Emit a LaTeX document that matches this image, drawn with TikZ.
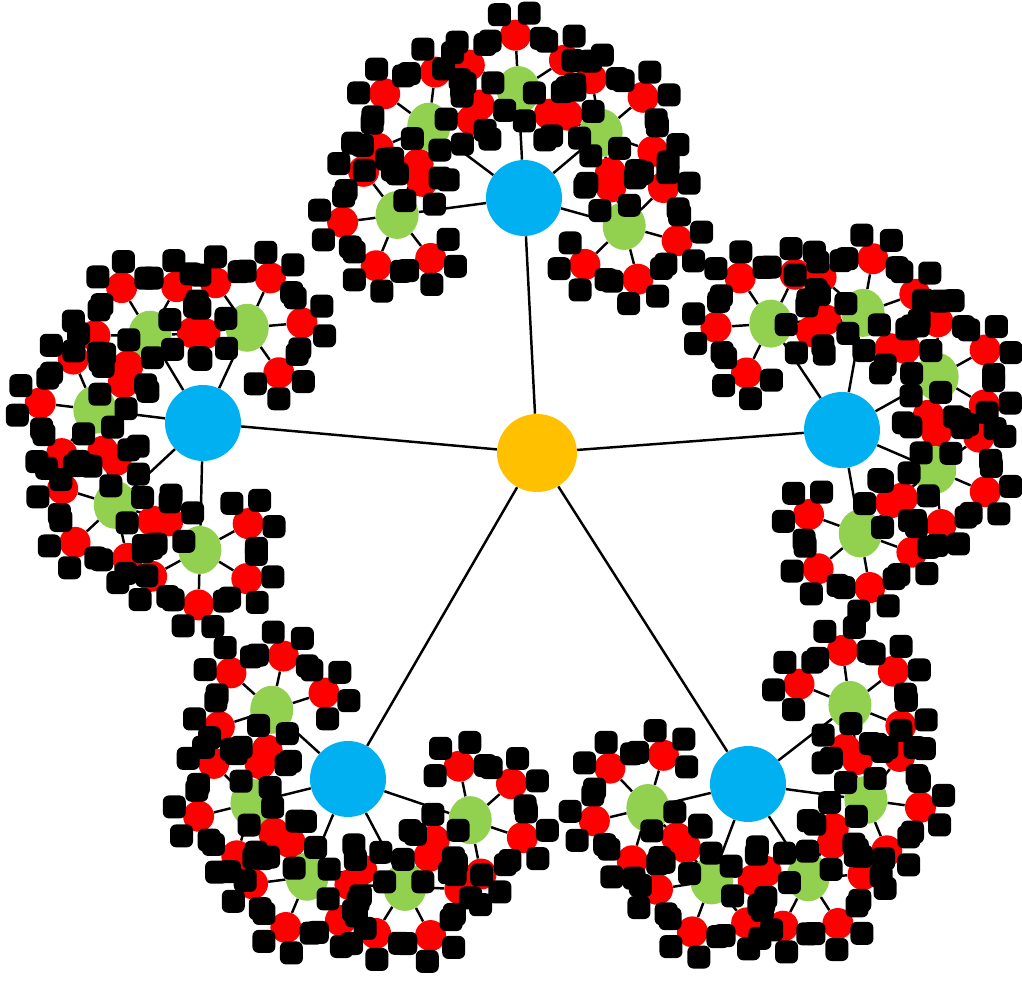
\documentclass[tikz,border=0pt]{standalone}
\usepackage{tikz}
\usetikzlibrary{shapes.geometric}
\definecolor{trYellow}{HTML}{FFC000}
\definecolor{trBlue}{HTML}{00B0F0}
\definecolor{trGreen}{HTML}{92D050}
\definecolor{trRed}{HTML}{FF0000}
\pgfdeclarelayer{background}
\pgfsetlayers{background,main}
% green children of each blue node: angle/distance
\def\greensA{187.6/128,143.2/119,93/108,40.2/101,-15.6/104}
\def\greensB{65.1/105,121/103,173/109,223/120,268.6/127}
\def\greensC{123.8/128,79.8/119,29.2/109,-23.3/101,-80/105}
\def\greensD{137.8/103,194/99,247.3/106,-62.2/122,-18.6/129}
\def\greensE{193.5/103,249.4/103,-57.2/111,-7.7/119,37.8/129}
\def\bluelist{1/greensA,2/greensB,3/greensC,4/greensD,5/greensE}
\begin{document}
\begin{tikzpicture}[x=0.02cm,y=0.02cm,
 rootnode/.style={ellipse,fill=trYellow,minimum width=1.6cm,minimum height=1.56cm,inner sep=0pt},
 bluenode/.style={circle,fill=trBlue,minimum size=1.52cm,inner sep=0pt},
 greennode/.style={ellipse,fill=trGreen,minimum width=0.86cm,minimum height=0.96cm,inner sep=0pt},
 rednode/.style={circle,fill=trRed,minimum size=0.62cm,inner sep=0pt},
 blacknode/.style={rectangle,rounded corners=3.5pt,fill=black,minimum size=0.46cm,inner sep=0pt},
 link/.style={draw=black,line width=1.4pt}]
\useasboundingbox (0,0) rectangle (1022,981);
\node[rootnode] (yel) at (537,528) {};
\node[bluenode] (blu-1) at (524,783) {};
\node[bluenode] (blu-2) at (203,558) {};
\node[bluenode] (blu-3) at (842,551) {};
\node[bluenode] (blu-4) at (348,202) {};
\node[bluenode] (blu-5) at (748,197) {};
% greens and reds
\foreach \i/\gn in \bluelist{
  \expandafter\let\expandafter\gl\csname\gn\endcsname
  \foreach \ga/\gd [count=\j] in \gl {
    \node[greennode] (grn-\i-\j) at ([shift={(\ga:\gd)}]blu-\i) {};
    \foreach \ro [count=\k] in {-120,-60,0,60,120}{
      \pgfmathsetmacro\ra{\ga+\ro}
      \node[rednode] (red-\i-\j-\k) at ([shift={(\ra:55)}]grn-\i-\j) {};
    }
  }
}
% blacks on top
\foreach \i/\gn in \bluelist{
  \expandafter\let\expandafter\gl\csname\gn\endcsname
  \foreach \ga/\gd [count=\j] in \gl {
    \foreach \ro [count=\k] in {-120,-60,0,60,120}{
      \foreach \ko [count=\l] in {-100,-35,35,100}{
        \pgfmathsetmacro\ka{\ga+\ro+\ko}
        \node[blacknode] (blk-\i-\j-\k-\l) at ([shift={(\ka:26)}]red-\i-\j-\k) {};
      }
    }
  }
}
% edges behind
\begin{pgfonlayer}{background}
\foreach \i/\gn in \bluelist{
  \draw[link] (yel) -- (blu-\i);
  \foreach \j in {1,...,5}{
    \draw[link] (blu-\i) -- (grn-\i-\j);
    \foreach \k in {1,...,5}{
      \draw[link] (grn-\i-\j) -- (red-\i-\j-\k);
      \foreach \l in {1,...,4}
        \draw[link] (red-\i-\j-\k) -- (blk-\i-\j-\k-\l);
    }
  }
}
\end{pgfonlayer}
\end{tikzpicture}
\end{document}
